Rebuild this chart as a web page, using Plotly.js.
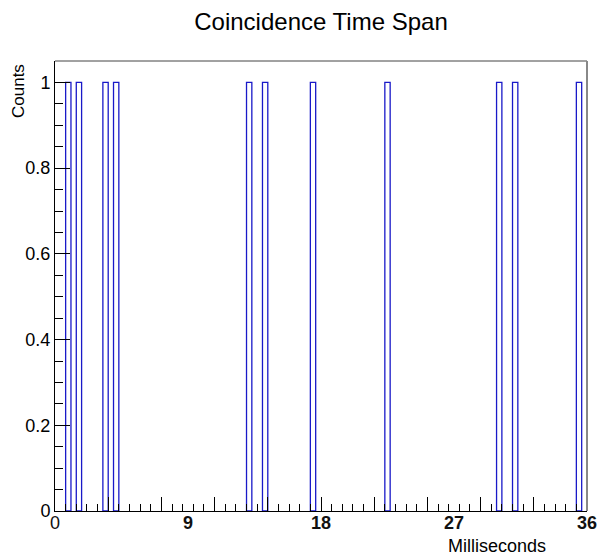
<!DOCTYPE html>
<html>
<head>
<meta charset="utf-8">
<script src="https://cdn.plot.ly/plotly-3.0.1.min.js"></script>
<style>html,body{margin:0;padding:0;background:#fff;}#chart{width:599px;height:556px;}</style>
</head>
<body>
<div id="chart"></div>
<script>
// Histogram: 100 bins of 0.36 ms over 0..36 ms; only filled bins listed
const binWidth = 0.36;
const binCenters = [0.9, 1.62, 3.42, 4.14, 13.14, 14.22, 17.46, 22.5, 30.06, 31.14, 35.46];
const counts = [1, 1, 1, 1, 1, 1, 1, 1, 1, 1, 1];
const xTickVals = [0, 9, 18, 27, 36];
const xTickText = ['0', '<b>9</b>', '<b>18</b>', '<b>27</b>', '<b>36</b>'];

const FONT = 'Liberation Sans, Arial, Helvetica, sans-serif';

const traces = [
  {
    type: 'bar',
    x: binCenters,
    y: counts,
    width: binCenters.map(() => binWidth),
    marker: {color: 'rgba(255,255,255,0)', line: {color: 'rgb(25,25,200)', width: 1.3}},
    hoverinfo: 'x+y',
    showlegend: false
  },
  {
    type: 'scatter', mode: 'markers', x: [], y: [], xaxis: 'x2', yaxis: 'y',
    showlegend: false, hoverinfo: 'skip'
  }
];

const layout = {
  width: 599, height: 556,
  margin: {l: 55, r: 12, t: 61, b: 45},
  paper_bgcolor: '#fff', plot_bgcolor: '#fff',
  font: {family: FONT, color: '#000'},
  bargap: 0,
  title: {text: 'Coincidence Time Span', font: {size: 24, family: FONT, color: '#000'},
          x: 0.5, xref: 'paper', xanchor: 'center', y: 1 - 22/556, yref: 'container', yanchor: 'middle'},
  xaxis: {
    range: [0, 36], tickmode: 'array', tickvals: xTickVals, ticktext: xTickText,
    ticks: '', showgrid: false, zeroline: false, ticklabelstandoff: -5,
    showline: true, linecolor: '#000', linewidth: 1,
    tickfont: {size: 18, family: FONT, color: '#111'},
    fixedrange: true
  },
  xaxis2: {
    overlaying: 'x', anchor: 'y', side: 'bottom', range: [0, 36],
    tickmode: 'linear', tick0: 0, dtick: 3.6,
    ticks: 'inside', ticklen: 14, tickcolor: '#000', tickwidth: 1,
    showticklabels: false, showgrid: false, zeroline: false, showline: false,
    minor: {tickmode: 'linear', tick0: 0, dtick: 0.72, ticks: 'inside', ticklen: 7, tickcolor: '#000', tickwidth: 1, showgrid: false}
  },
  yaxis: {
    range: [0, 1.05], tickmode: 'linear', tick0: 0, dtick: 0.2,
    ticks: 'inside', ticklen: 15, tickcolor: '#000', tickwidth: 1,
    minor: {tickmode: 'linear', tick0: 0, dtick: 0.05, ticks: 'inside', ticklen: 8, tickcolor: '#000', tickwidth: 1, showgrid: false},
    showgrid: false, zeroline: false,
    showline: true, linecolor: '#000', linewidth: 1,
    tickfont: {size: 18, family: FONT, color: '#000'},
    fixedrange: true
  },
  shapes: [
    {type: 'line', xref: 'paper', yref: 'paper', x0: 0, x1: 1, y0: 1, y1: 1, line: {color: '#444', width: 1}},
    {type: 'line', xref: 'paper', yref: 'paper', x0: 1, x1: 1, y0: 0, y1: 1, line: {color: '#888', width: 2}}
  ],
  annotations: [
    {text: 'Milliseconds', xref: 'paper', yref: 'paper', x: (548 - 55) / 532, xanchor: 'right',
     y: -(546 - 511) / 450, yanchor: 'middle', showarrow: false, font: {size: 18, family: FONT, color: '#000'}},
    {text: 'Counts', xref: 'paper', yref: 'paper', x: (18 - 55) / 532, xanchor: 'center',
     y: (511 - 62) / 450, yanchor: 'top', textangle: -90, showarrow: false, font: {size: 17, family: FONT, color: '#000'}}
  ]
};

Plotly.newPlot('chart', traces, layout, {displayModeBar: false, staticPlot: true});
</script>
</body>
</html>
